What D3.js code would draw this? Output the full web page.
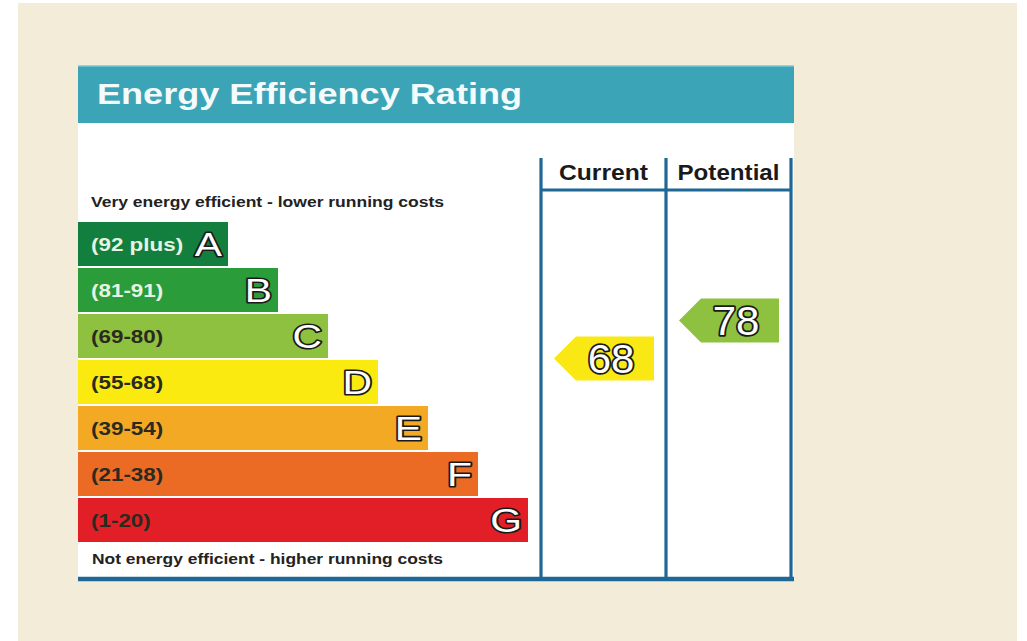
<!DOCTYPE html>
<html><head><meta charset="utf-8">
<script src="https://cdn.jsdelivr.net/npm/d3@7"></script>
<style>body{margin:0;background:#fff}svg{display:block}</style>
</head><body><svg id="c" width="1027" height="641"></svg>
<script>
// ---- data ----
const title = "Energy Efficiency Rating";
const topNote = "Very energy efficient - lower running costs";
const bottomNote = "Not energy efficient - higher running costs";
const bandLetters = ["A","B","C","D","E","F","G"];
const bandRanges = ["(92 plus)","(81-91)","(69-80)","(55-68)","(39-54)","(21-38)","(1-20)"];
const bandLengths = [3,4,5,6,7,8,9];
const bandColors = ["#127f3e","#2a9c39","#8fc140","#fbea0f","#f4a925","#eb6b25","#e21f27"];
const bandTextColors = ["#e6f3e2","#e6f3e2","#2a2a1e","#2a2a1e","#2a2a1e","#2a2a1e","#2a2a1e"];
const columns = ["Current","Potential"];
const ratings = [68,78];
const ratingColors = ["#f9e814","#8dc13f"];

// ---- setup ----
const svg = d3.select("#c");
const FONT = "'Liberation Sans', Arial, Helvetica, sans-serif";
const lineColor = "#1f6896";

svg.append("rect").attr("x",18).attr("y",3).attr("width",999).attr("height",638).attr("fill","#f3ecd8");
svg.append("rect").attr("x",78).attr("y",65).attr("width",716).attr("height",515).attr("fill","#ffffff");
svg.append("rect").attr("x",78).attr("y",65).attr("width",716).attr("height",58).attr("fill","#3ca4b7");
svg.append("rect").attr("x",78).attr("y",65).attr("width",716).attr("height",1.5).attr("fill","#8fd6df");

svg.append("text").attr("x",97).attr("y",104).text(title)
  .attr("font-family",FONT).attr("font-weight","bold").attr("font-size",29)
  .attr("fill","#f4fbfc").attr("textLength",425).attr("lengthAdjust","spacingAndGlyphs");

svg.append("text").attr("x",91).attr("y",207).text(topNote)
  .attr("font-family",FONT).attr("font-weight","bold").attr("font-size",14.5)
  .attr("fill","#222").attr("textLength",353).attr("lengthAdjust","spacingAndGlyphs");
svg.append("text").attr("x",92).attr("y",564).text(bottomNote)
  .attr("font-family",FONT).attr("font-weight","bold").attr("font-size",14.5)
  .attr("fill","#222").attr("textLength",351).attr("lengthAdjust","spacingAndGlyphs");

// ---- bars ----
const y = d3.scaleBand().domain(bandLetters).range([221, 543]).paddingInner(2/46).paddingOuter(1/46);
const x = d3.scaleLinear().domain([0,9]).range([78,528]);

const bands = bandLetters.map((l,i)=>({letter:l, range:bandRanges[i], len:bandLengths[i], color:bandColors[i], tcolor:bandTextColors[i]}));
const g = svg.append("g");
g.selectAll("rect.bar").data(bands).join("rect").attr("class","bar")
  .attr("x",x(0)).attr("y",d=>y(d.letter)).attr("width",d=>x(d.len)-x(0)).attr("height",y.bandwidth())
  .attr("fill",d=>d.color);

g.selectAll("text.rng").data(bands).join("text").attr("class","rng")
  .attr("transform",d=>`translate(91,${y(d.letter)+y.bandwidth()/2+7}) scale(1.18,1)`)
  .attr("font-family",FONT).attr("font-weight","bold").attr("font-size",19)
  .attr("fill",d=>d.tcolor).text(d=>d.range);

g.selectAll("text.let").data(bands).join("text").attr("class","let")
  .attr("transform",d=>`translate(${x(d.len)-6},${y(d.letter)+y.bandwidth()/2+12}) scale(1.2,1)`)
  .attr("text-anchor","end")
  .attr("font-family",FONT).attr("font-size",34)
  .attr("fill","#fff").attr("stroke","#1a1a1a").attr("stroke-width",3.2)
  .attr("paint-order","stroke").attr("stroke-linejoin","round")
  .text(d=>d.letter);

// ---- columns ----
const cx = d3.scaleBand().domain(columns).range([541,791]);
const yr = d3.scaleLinear().domain([0,100]).range([617,237]);

svg.selectAll("text.hdr").data(columns).join("text").attr("class","hdr")
  .attr("x",d=>cx(d)+cx.bandwidth()/2).attr("y",180).attr("text-anchor","middle")
  .attr("font-family",FONT).attr("font-weight","bold").attr("font-size",22)
  .attr("fill","#1a1a1a").attr("textLength",(d,i)=>[89,102][i]).attr("lengthAdjust","spacingAndGlyphs")
  .text(d=>d);

const arrows = columns.map((c,i)=>({col:c, value:ratings[i], color:ratingColors[i]}));
const ag = svg.append("g");
ag.selectAll("path").data(arrows).join("path")
  .attr("d",d=>{
    const x0 = cx(d.col)+13, x1 = cx(d.col)+cx.bandwidth()-12, yc = yr(d.value), h = 22, tip = 22;
    const p = d3.path();
    p.moveTo(x0, yc); p.lineTo(x0+tip, yc-h); p.lineTo(x1, yc-h); p.lineTo(x1, yc+h); p.lineTo(x0+tip, yc+h); p.closePath();
    return p.toString();
  })
  .attr("fill",d=>d.color);
ag.selectAll("text").data(arrows).join("text")
  .attr("transform",d=>{
    const x0 = cx(d.col)+13, x1 = cx(d.col)+cx.bandwidth()-12;
    return `translate(${(x0+22+x1)/2-4},${yr(d.value)+14}) scale(1.05,1)`;
  })
  .attr("text-anchor","middle")
  .attr("font-family",FONT).attr("font-size",40)
  .attr("fill","#fff").attr("stroke","#1a1a1a").attr("stroke-width",3.5)
  .attr("paint-order","stroke").attr("stroke-linejoin","round")
  .text(d=>d.value);

// ---- grid lines ----
const xs = [cx(columns[0]), cx(columns[1]), cx(columns[1])+cx.bandwidth()];
svg.selectAll("line.v").data(xs).join("line").attr("class","v")
  .attr("x1",d=>d).attr("x2",d=>d).attr("y1",158).attr("y2",580)
  .attr("stroke",lineColor).attr("stroke-width",3.2);
svg.append("line").attr("x1",xs[0]).attr("x2",xs[2]).attr("y1",190).attr("y2",190)
  .attr("stroke",lineColor).attr("stroke-width",3.2);
svg.append("line").attr("x1",78).attr("x2",794).attr("y1",579).attr("y2",579)
  .attr("stroke",lineColor).attr("stroke-width",4.5);
</script></body></html>
